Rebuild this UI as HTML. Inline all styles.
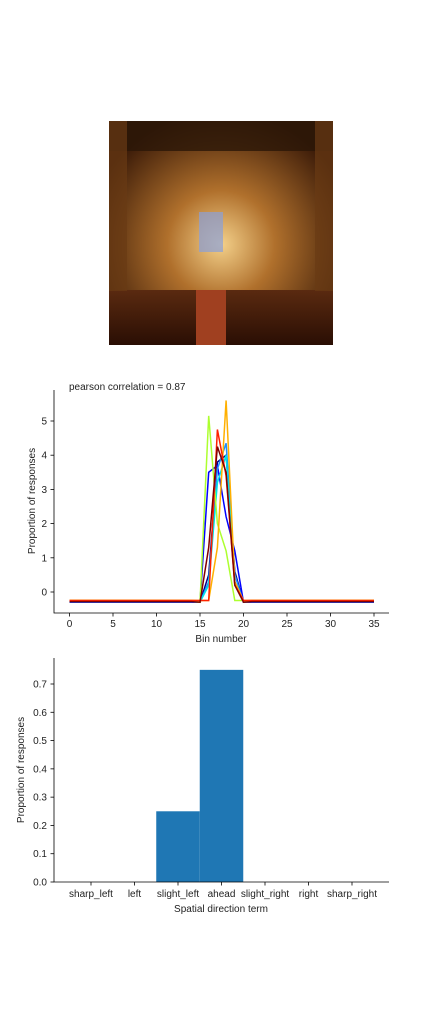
<!DOCTYPE html>
<html><head><meta charset="utf-8"><style>
body{margin:0;background:#fff;width:432px;height:1008px;overflow:hidden;font-family:"Liberation Sans",sans-serif}
svg text{font-family:"Liberation Sans",sans-serif;font-size:10px;fill:#222}
</style></head><body>
<svg width="432" height="1008">
<defs>
<radialGradient id="g1" cx="0.5" cy="0.55" r="0.6"><stop offset="0" stop-color="#f3d08a"/><stop offset="0.4" stop-color="#b0702c"/><stop offset="1" stop-color="#3a1a08"/></radialGradient>
<linearGradient id="g2" x1="0" y1="0" x2="0" y2="1"><stop offset="0" stop-color="#5a2a10"/><stop offset="1" stop-color="#2a0e04"/></linearGradient>
</defs>
<g>
<rect x="109" y="121" width="224" height="224" fill="url(#g1)"/>
<rect x="109" y="121" width="224" height="30" fill="#2a1608" opacity="0.8"/>
<rect x="109" y="290" width="224" height="55" fill="url(#g2)"/>
<rect x="199" y="212" width="24" height="40" fill="#8aa0d8" opacity="0.7"/>
<rect x="196" y="290" width="30" height="55" fill="#a04020"/>
<rect x="109" y="121" width="18" height="170" fill="#6a3a14" opacity="0.7"/>
<rect x="315" y="121" width="18" height="170" fill="#6a3a14" opacity="0.7"/>
</g>
<text x="69" y="390">pearson correlation = 0.87</text>
<g id="line"></g>
<g id="bar"></g>
</svg>
<script>
const bins=[...Array(36).keys()];
const xTicks=[0,5,10,15,20,25,30,35];
const yTicks=[0,1,2,3,4,5];
const colors=["#00008b","#0000ff","#1e90ff","#00e5e5","#adff2f","#ffb000","#ff2000","#800000"];
const baselines=[-0.3,-0.3,-0.29,-0.28,-0.26,-0.24,-0.25,-0.28];
const peakBlue=[-0.3,0.5,3.8,4.0,0.6,-0.3];
const peakBlue2=[-0.3,3.5,3.7,2.2,1.2,-0.3];
const peakDodger=[-0.3,0.3,3.6,4.35,0.5,-0.3];
const peakCyan=[-0.3,0.2,3.2,4.0,0.3,-0.29];
const peakGreen=[-0.3,5.15,2.0,1.2,-0.25,-0.25];
const peakOrange=[-0.25,-0.25,1.3,5.6,0.3,-0.25];
const peakRed=[-0.25,-0.25,4.75,3.4,0.2,-0.25];
const peakDark=[-0.3,1.3,4.25,3.5,0.2,-0.3];
const peaks=[peakBlue,peakBlue2,peakDodger,peakCyan,peakGreen,peakOrange,peakRed,peakDark];
const NS="http://www.w3.org/2000/svg";
function mk(t,a,p){const e=document.createElementNS(NS,t);for(const k in a)e.setAttribute(k,a[k]);p.appendChild(e);return e;}
const L=document.getElementById('line');
const lx=v=>69.5+v*(374-69.5)/35, ly=v=>592-v*(592-421)/5;
let ax=mk('path',{d:'M54,390V613H389',stroke:'#000',fill:'none','stroke-width':0.8},L);

xTicks.forEach(t=>{mk('line',{x1:lx(t),x2:lx(t),y1:613,y2:616.5,stroke:'#000','stroke-width':0.8},L);
 const tx=mk('text',{x:lx(t),y:627,'text-anchor':'middle'},L);tx.textContent=t;
 });
yTicks.forEach(t=>{mk('line',{x1:50.5,x2:54,y1:ly(t),y2:ly(t),stroke:'#000','stroke-width':0.8},L);
 const tx=mk('text',{x:47,y:ly(t)+3.5,'text-anchor':'end'},L);tx.textContent=t;
 });
let xl=mk('text',{x:221,y:642,'text-anchor':'middle'},L);xl.textContent='Bin number';

let yl=mk('text',{x:35,y:501,'text-anchor':'middle',transform:'rotate(-90 35 501)'},L);yl.textContent='Proportion of responses';

peaks.forEach((pk,i)=>{const vals=bins.map(b=>(b>=15&&b<=20)?pk[b-15]:baselines[i]);
 const p=mk('polyline',{points:vals.map((v,b)=>lx(b)+','+ly(v)).join(' '),fill:'none',stroke:colors[i],'stroke-width':1.5},L);
 });
const cats=["sharp_left","left","slight_left","ahead","slight_right","right","sharp_right"];
const props=[0,0,0.25,0.75,0,0,0];
const bTicks=[0,0.1,0.2,0.3,0.4,0.5,0.6,0.7];
const B=document.getElementById('bar');
const bx=i=>91+i*43.5, by=v=>882-v*(882-684)/0.7;
props.forEach((v,i)=>{if(v>0){const r=mk('rect',{x:bx(i)-21.75,y:by(v),width:43.5,height:882-by(v),fill:'#1f77b4'},B);
 }});
let bax=mk('path',{d:'M54,658V882H389',stroke:'#000',fill:'none','stroke-width':0.8},B);

cats.forEach((c,i)=>{mk('line',{x1:bx(i),x2:bx(i),y1:882,y2:885.5,stroke:'#000','stroke-width':0.8},B);
 const tx=mk('text',{x:bx(i),y:897,'text-anchor':'middle'},B);tx.textContent=c;
 });
bTicks.forEach(t=>{mk('line',{x1:50.5,x2:54,y1:by(t),y2:by(t),stroke:'#000','stroke-width':0.8},B);
 const tx=mk('text',{x:47,y:by(t)+3.5,'text-anchor':'end'},B);tx.textContent=t.toFixed(1);
 });
let bxl=mk('text',{x:221,y:912,'text-anchor':'middle'},B);bxl.textContent='Spatial direction term';

let byl=mk('text',{x:24,y:770,'text-anchor':'middle',transform:'rotate(-90 24 770)'},B);byl.textContent='Proportion of responses';

</script>
</body></html>
